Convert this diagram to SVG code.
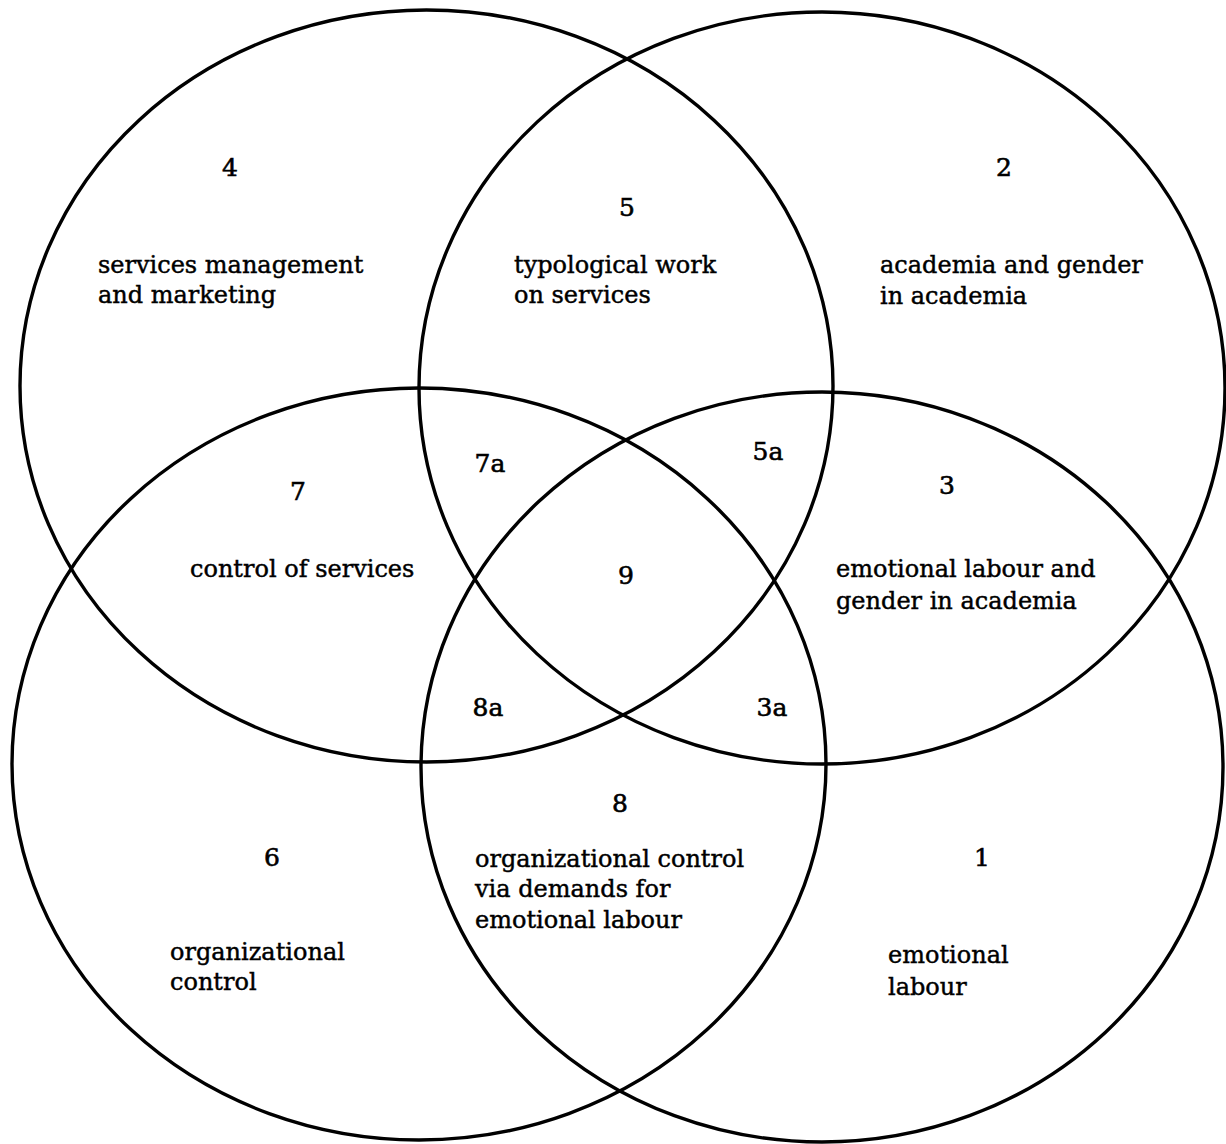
<svg xmlns="http://www.w3.org/2000/svg" width="1226" height="1144" viewBox="0 0 1226 1144">
  <style>
    .ring { fill: none; stroke: #000; stroke-width: 3.4; }
    .lbl { font-family: "DejaVu Serif", "Liberation Serif", serif; font-size: 24px; fill: #000; stroke: #000; stroke-width: 0.45; }
    .num { font-family: "DejaVu Serif", "Liberation Serif", serif; font-size: 25px; fill: #000; stroke: #000; stroke-width: 0.6; text-anchor: middle; }
  </style>
  <rect width="1226" height="1144" fill="#fff"/>

  <!-- four overlapping sets -->
  <g id="sets">
    <ellipse id="set-top-left" class="ring" cx="426.5" cy="386" rx="406.5" ry="376"/>
    <ellipse id="set-top-right" class="ring" cx="822" cy="388" rx="403" ry="376"/>
    <ellipse id="set-bottom-left" class="ring" cx="419" cy="764" rx="407" ry="376"/>
    <ellipse id="set-bottom-right" class="ring" cx="822" cy="767" rx="401" ry="375"/>
  </g>

  <!-- region numbers and descriptions -->
  <g id="region-4">
    <text class="num" x="230" y="176">4</text>
    <text class="lbl" x="98" y="273">services management</text>
    <text class="lbl" x="98" y="303">and marketing</text>
  </g>
  <g id="region-5">
    <text class="num" x="627" y="216">5</text>
    <text class="lbl" x="514" y="273">typological work</text>
    <text class="lbl" x="514" y="303">on services</text>
  </g>
  <g id="region-2">
    <text class="num" x="1004" y="176">2</text>
    <text class="lbl" x="880" y="273">academia and gender</text>
    <text class="lbl" x="880" y="304">in academia</text>
  </g>
  <g id="region-7a">
    <text class="num" x="490" y="472">7a</text>
  </g>
  <g id="region-5a">
    <text class="num" x="768" y="460">5a</text>
  </g>
  <g id="region-7">
    <text class="num" x="298" y="500">7</text>
    <text class="lbl" x="190" y="577">control of services</text>
  </g>
  <g id="region-3">
    <text class="num" x="947" y="494">3</text>
    <text class="lbl" x="836" y="577">emotional labour and</text>
    <text class="lbl" x="836" y="609">gender in academia</text>
  </g>
  <g id="region-9">
    <text class="num" x="626" y="584">9</text>
  </g>
  <g id="region-8a">
    <text class="num" x="488" y="716">8a</text>
  </g>
  <g id="region-3a">
    <text class="num" x="772" y="716">3a</text>
  </g>
  <g id="region-8">
    <text class="num" x="620" y="812">8</text>
    <text class="lbl" x="475" y="867">organizational control</text>
    <text class="lbl" x="475" y="897">via demands for</text>
    <text class="lbl" x="475" y="928">emotional labour</text>
  </g>
  <g id="region-6">
    <text class="num" x="272" y="866">6</text>
    <text class="lbl" x="170" y="960">organizational</text>
    <text class="lbl" x="170" y="990">control</text>
  </g>
  <g id="region-1">
    <text class="num" x="982" y="866">1</text>
    <text class="lbl" x="888" y="963">emotional</text>
    <text class="lbl" x="888" y="995">labour</text>
  </g>
</svg>
